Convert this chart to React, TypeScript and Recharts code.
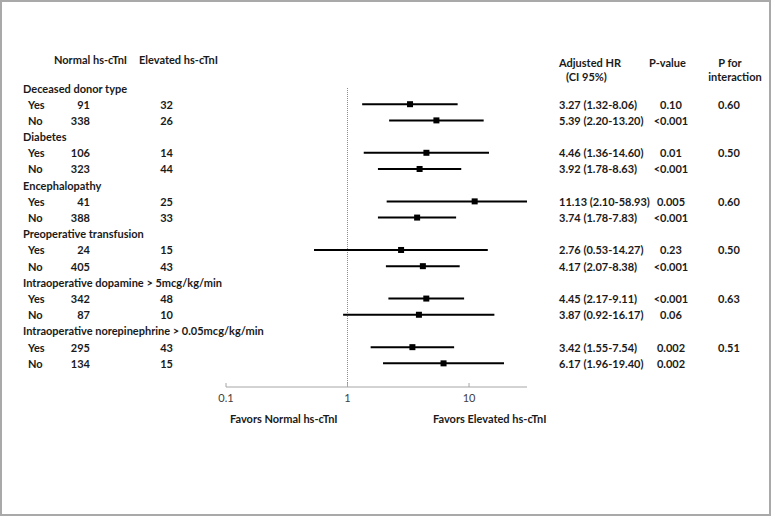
import { ScatterChart, Scatter, XAxis, YAxis, ReferenceLine } from 'recharts';

const groups = [
  'Deceased donor type',
  'Diabetes',
  'Encephalopathy',
  'Preoperative transfusion',
  'Intraoperative dopamine > 5mcg/kg/min',
  'Intraoperative norepinephrine > 0.05mcg/kg/min',
];
const levels = ['Yes', 'No'];
const normalN = [91, 338, 106, 323, 41, 388, 24, 405, 342, 87, 295, 134];
const elevatedN = [32, 26, 14, 44, 25, 33, 15, 43, 48, 10, 43, 15];
const hazardRatio = [3.27, 5.39, 4.46, 3.92, 11.13, 3.74, 2.76, 4.17, 4.45, 3.87, 3.42, 6.17];
const ciLow = [1.32, 2.2, 1.36, 1.78, 2.1, 1.78, 0.53, 2.07, 2.17, 0.92, 1.55, 1.96];
const ciHigh = [8.06, 13.2, 14.6, 8.63, 58.93, 7.83, 14.27, 8.38, 9.11, 16.17, 7.54, 19.4];
const pValues = ['0.10', '<0.001', '0.01', '<0.001', '0.005', '<0.001', '0.23', '<0.001', '<0.001', '0.06', '0.002', '0.002'];
const pInteraction = ['0.60', '0.50', '0.60', '0.50', '0.63', '0.51'];
const xTicks = [0.1, 1, 10];

type Row = {
  row: number;
  header?: string;
  level?: string;
  normal?: number;
  elevated?: number;
  hr?: number;
  lo?: number;
  hi?: number;
  p?: string;
  pInt?: string;
};

const rows: Row[] = groups.flatMap((g, gi) => [
  { row: gi * 3, header: g },
  ...levels.map((lv, li) => {
    const k = gi * 2 + li;
    return {
      row: gi * 3 + 1 + li,
      level: lv,
      normal: normalN[k],
      elevated: elevatedN[k],
      hr: hazardRatio[k],
      lo: ciLow[k],
      hi: ciHigh[k],
      p: pValues[k],
      pInt: li === 0 ? pInteraction[gi] : '',
    };
  }),
]);
const studies = rows.filter((r) => !r.header);
const points = studies.map((s) => ({ x: s.hr, y: s.row }));

const FONT = 'Lato, "Open Sans", sans-serif';
const TXT = { fontFamily: FONT, fontSize: 11, fontWeight: 700, fill: '#1a1a1a' } as const;

// left table + right stats columns are both hung off the row ticks
const RowTick = ({ y, payload }: any) => {
  const r = rows[payload.value];
  if (!r) return null;
  if (r.header) {
    return <text x={23} y={y} dominantBaseline="central" {...TXT}>{r.header}</text>;
  }
  return (
    <g>
      <text x={28} y={y} dominantBaseline="central" {...TXT}>{r.level}</text>
      <text x={90} y={y} dominantBaseline="central" textAnchor="end" {...TXT}>{r.normal}</text>
      <text x={173} y={y} dominantBaseline="central" textAnchor="end" {...TXT}>{r.elevated}</text>
      <text x={559} y={y} dominantBaseline="central" {...TXT}>
        {`${r.hr!.toFixed(2)} (${r.lo!.toFixed(2)}-${r.hi!.toFixed(2)})`}
      </text>
      <text x={671} y={y} dominantBaseline="central" textAnchor="middle" {...TXT}>{r.p}</text>
      {r.pInt && (
        <text x={729} y={y} dominantBaseline="central" textAnchor="middle" {...TXT}>{r.pInt}</text>
      )}
    </g>
  );
};

const XTick = ({ x, y, payload }: any) => (
  <g>
    <line x1={x} x2={x} y1={y} y2={y - 4} stroke="#a6a6a6" />
    <text x={x} y={y + 15} textAnchor="middle" fontFamily={FONT} fontSize={11} fill="#404040">
      {payload.value}
    </text>
  </g>
);

const Square = ({ cx, cy }: any) => <rect x={cx - 3} y={cy - 3} width={6} height={6} fill="#000" />;

export default function App() {
  return (
    <div style={{ position: 'absolute', left: 0, top: 0, width: 771, height: 516, background: '#fff' }}>
      <ScatterChart width={771} height={516} margin={{ top: 88, right: 244, bottom: 99, left: 0 }}>
        <XAxis
          type="number"
          dataKey="x"
          scale="log"
          domain={[0.1, 30]}
          allowDataOverflow
          ticks={xTicks}
          height={30}
          tickSize={0}
          tickMargin={0}
          tickLine={false}
          axisLine={{ stroke: '#a6a6a6' }}
          tick={<XTick />}
        />
        <YAxis
          yAxisId="rows"
          type="number"
          dataKey="y"
          domain={[0, 18.46]}
          reversed
          width={226}
          ticks={rows.map((r) => r.row)}
          interval={0}
          axisLine={false}
          tickLine={false}
          tick={<RowTick />}
        />
        <ReferenceLine yAxisId="rows" x={1} stroke="#8c8c8c" strokeDasharray="1 1" />
        {studies.map((s) => (
          <ReferenceLine
            key={s.row}
            yAxisId="rows"
            segment={[{ x: s.lo, y: s.row }, { x: s.hi, y: s.row }]}
            stroke="#000"
            strokeWidth={2}
            ifOverflow="hidden"
          />
        ))}
        <Scatter yAxisId="rows" data={points} shape={<Square />} isAnimationActive={false} />
      </ScatterChart>
      <svg
        width={771}
        height={516}
        style={{ position: 'absolute', left: 0, top: 0, pointerEvents: 'none', whiteSpace: 'pre' }}
      >
        <text x={54} y={59} dominantBaseline="central" {...TXT}>Normal hs-cTnI</text>
        <text x={139} y={59} dominantBaseline="central" {...TXT}>Elevated hs-cTnI</text>
        <text x={559} y={62} dominantBaseline="central" {...TXT}>Adjusted HR</text>
        <text x={566} y={76} dominantBaseline="central" {...TXT}>(CI 95%)</text>
        <text x={649} y={62} dominantBaseline="central" {...TXT}>P-value</text>
        <text x={730} y={62} dominantBaseline="central" textAnchor="middle" {...TXT}>P for</text>
        <text x={735} y={76} dominantBaseline="central" textAnchor="middle" {...TXT}>interaction</text>
        <text x={230} y={418} dominantBaseline="central" {...TXT}>{'Favors Normal  hs-cTnI'}</text>
        <text x={433} y={418} dominantBaseline="central" {...TXT}>{'Favors  Elevated hs-cTnI'}</text>
      </svg>
      <div
        style={{
          position: 'absolute',
          left: 0,
          top: 0,
          width: 771,
          height: 516,
          boxSizing: 'border-box',
          border: '2px solid #a9a9a9',
          pointerEvents: 'none',
        }}
      />
    </div>
  );
}
